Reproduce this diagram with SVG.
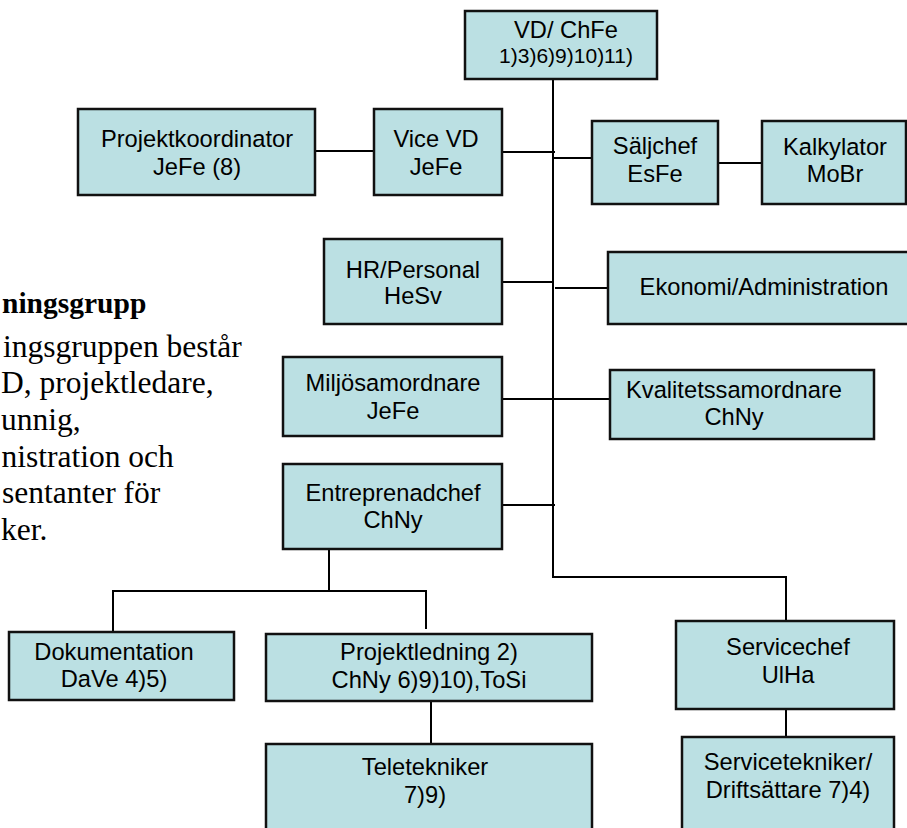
<svg xmlns="http://www.w3.org/2000/svg" width="907" height="828" viewBox="0 0 907 828">
<style>
.box{fill:#BBE0E3;stroke:#111;stroke-width:2.5}
.t{font-family:"Liberation Sans",Arial,sans-serif;font-size:23.7px;fill:#000;text-anchor:middle}
.s{font-size:21px}
.c{fill:none;stroke:#000;stroke-width:2}
.h{font-family:"Liberation Serif","Times New Roman",serif;font-weight:bold;font-size:29.5px;fill:#000}
.p{font-family:"Liberation Serif","Times New Roman",serif;font-size:31.5px;fill:#000}
</style>
<rect width="907" height="828" fill="#fff"/>
<g id="connectors">
<path class="c" d="M553,79 V577 H786 V621"/>
<path class="c" d="M315,151 H374"/>
<path class="c" d="M502,152 H555"/>
<path class="c" d="M553,158 H592"/>
<path class="c" d="M718,163 H762"/>
<path class="c" d="M502,282 H553"/>
<path class="c" d="M555,288 H608"/>
<path class="c" d="M502,399 H610"/>
<path class="c" d="M502,505 H555"/>
<path class="c" d="M329,549 V591"/>
<path class="c" d="M113,632 V591 H426 V629"/>
<path class="c" d="M431,701 V744"/>
<path class="c" d="M786,709 V737"/>
</g>
<g id="text-left">
<text class="h" x="2" y="313">ningsgrupp</text>
<text class="p" x="3" y="357">ingsgruppen består</text>
<text class="p" x="1" y="393">D, projektledare,</text>
<text class="p" x="1" y="430">unnig,</text>
<text class="p" x="1.5" y="467">nistration och</text>
<text class="p" x="2" y="503">sentanter för</text>
<text class="p" x="1" y="540">ker.</text>
</g>
<g id="vd"><rect class="box" x="465" y="11" width="192" height="68"/><text class="t" x="566" y="38">VD/ ChFe</text><text class="t s" x="566" y="63">1)3)6)9)10)11)</text></g>
<g id="projektkoordinator"><rect class="box" x="78" y="109" width="237" height="86"/><text class="t" x="197" y="147">Projektkoordinator</text><text class="t" x="197" y="175">JeFe (8)</text></g>
<g id="vicevd"><rect class="box" x="374" y="109" width="128" height="86"/><text class="t" x="436" y="147">Vice VD</text><text class="t" x="436" y="175">JeFe</text></g>
<g id="saljchef"><rect class="box" x="592" y="121" width="126" height="83"/><text class="t" x="655" y="154">Säljchef</text><text class="t" x="655" y="182">EsFe</text></g>
<g id="kalkylator"><rect class="box" x="762" y="121" width="144" height="83"/><text class="t" x="835" y="155">Kalkylator</text><text class="t" x="835" y="182">MoBr</text></g>
<g id="hr"><rect class="box" x="324" y="239" width="178" height="85"/><text class="t" x="413" y="278">HR/Personal</text><text class="t" x="413" y="304">HeSv</text></g>
<g id="ekonomi"><rect class="box" x="608" y="252" width="310" height="72"/><text class="t" x="764" y="295">Ekonomi/Administration</text></g>
<g id="miljo"><rect class="box" x="283" y="357" width="219" height="79"/><text class="t" x="393" y="391">Miljösamordnare</text><text class="t" x="393" y="419">JeFe</text></g>
<g id="kvalitet"><rect class="box" x="610" y="370" width="264" height="69"/><text class="t" x="734" y="398">Kvalitetssamordnare</text><text class="t" x="734" y="425">ChNy</text></g>
<g id="entreprenad"><rect class="box" x="283" y="464" width="219" height="85"/><text class="t" x="393" y="501">Entreprenadchef</text><text class="t" x="393" y="528">ChNy</text></g>
<g id="dokumentation"><rect class="box" x="9" y="632" width="225" height="68"/><text class="t" x="114" y="660">Dokumentation</text><text class="t" x="114" y="687">DaVe 4)5)</text></g>
<g id="projektledning"><rect class="box" x="266" y="634" width="326" height="67"/><text class="t" x="429" y="660">Projektledning 2)</text><text class="t" x="429" y="688">ChNy 6)9)10),ToSi</text></g>
<g id="teletekniker"><rect class="box" x="266" y="744" width="326" height="100"/><text class="t" x="425" y="775">Teletekniker</text><text class="t" x="425" y="803">7)9)</text></g>
<g id="servicechef"><rect class="box" x="676" y="621" width="218" height="88"/><text class="t" x="788" y="655">Servicechef</text><text class="t" x="788" y="683">UlHa</text></g>
<g id="servicetekniker"><rect class="box" x="682" y="737" width="212" height="100"/><text class="t" x="788" y="770">Servicetekniker/</text><text class="t" x="788" y="798">Driftsättare 7)4)</text></g>
</svg>
